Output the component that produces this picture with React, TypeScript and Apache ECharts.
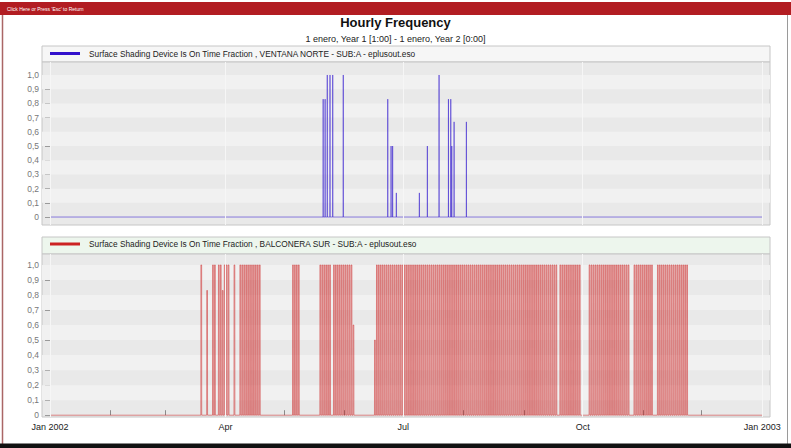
import React, { useEffect, useRef } from 'react';
import * as echarts from 'echarts';

const TITLE = 'Hourly Frequency';
const SUBTITLE = '1 enero, Year 1 [1:00] - 1 enero, Year 2 [0:00]';
const BANNER = "Click Here or Press 'Esc' to Return";
const SERIES_NAMES = [
  'Surface Shading Device Is On Time Fraction , VENTANA NORTE - SUB:A - eplusout.eso',
  'Surface Shading Device Is On Time Fraction , BALCONERA SUR - SUB:A - eplusout.eso',
];

// x axis in days since 1 Jan 2002
const monthTickDays = [0, 31, 59, 90, 120, 151, 181, 212, 243, 273, 304, 334, 365];
const quarterLabelDays = [0, 90, 181, 273, 365];
const quarterLabels = ['Jan 2002', 'Apr', 'Jul', 'Oct', 'Jan 2003'];
const yTicks = [0, 0.1, 0.2, 0.3, 0.4, 0.5, 0.6, 0.7, 0.8, 0.9, 1.0];
const lightBands = [[0.1, 0.2], [0.3, 0.4], [0.5, 0.6], [0.7, 0.8], [0.9, 1.0]];

const SERIES_START_DAY = 0;
const SERIES_END_DAY = 365;

// VENTANA NORTE: isolated hourly spikes (day of year, value)
const blueSpikeDays = [140.0, 141.0, 142.1, 143.5, 144.9, 150.3, 173.1, 174.8, 175.6, 177.5, 189.3, 193.4, 199.4, 204.2, 205.4, 205.9, 207.1, 213.4];
const blueSpikeValues = [0.83, 0.83, 1.0, 1.0, 1.0, 1.0, 0.83, 0.5, 0.5, 0.17, 0.17, 0.5, 1.0, 0.83, 0.83, 0.5, 0.67, 0.67];

// BALCONERA SUR: days with the shade on during daytime hours
const redFullDays = [
  77, 83, 84, 86, 87, 89, 90, 91, 94,
  97, 98, 99, 100, 101, 102, 103, 104, 105, 106, 107,
  124, 125, 126, 127,
  138, 139, 140, 141, 142, 143,
  145, 146, 147, 148, 149, 150, 151, 152, 153, 154,
  167, 168, 169, 170, 171, 172, 173, 174, 175, 176, 177, 178, 179, 180, 181, 182, 183, 184, 185, 186,
  187, 188, 189, 190, 191, 192, 193, 194, 195, 196, 197, 198, 199, 200, 201, 202, 203, 204, 205, 206,
  207, 208, 209, 210, 211, 212, 213, 214, 215, 216, 217, 218, 219, 220, 221, 222, 223, 224, 225, 226,
  227, 228, 229, 230, 231, 232, 233, 234, 235, 236, 237, 238, 239, 240, 241, 242, 243, 244, 245, 246,
  247, 248, 249, 250, 251, 252, 253, 254, 255, 256, 257, 258, 259,
  261, 262, 263, 264, 265, 266, 267, 268, 269, 270, 271,
  276, 277, 278, 279, 280, 281, 282, 283, 284, 285, 286, 287, 288, 289, 290, 291, 292, 293, 294, 295, 296,
  299, 300, 301, 302, 303, 304, 305, 306, 307, 308,
  311, 312, 313, 314, 315, 316, 317, 318, 319, 320, 321, 322, 323, 324, 325, 326,
];
const redPartialDays = [80, 88, 155, 166];
const redPartialValues = [0.83, 0.83, 0.6, 0.5];
const RED_ON_HOUR = 8;
const RED_OFF_HOUR = 17;

const X_MIN = -4.1;
const X_MAX = 369;

function buildBlue(): number[][] {
  const out: number[][] = [[SERIES_START_DAY, 0]];
  blueSpikeDays.forEach((d, i) => {
    out.push([d - 1 / 24, 0], [d, blueSpikeValues[i]], [d + 1 / 24, 0]);
  });
  out.push([SERIES_END_DAY, 0]);
  return out;
}

function buildRed(): number[][] {
  const entries: number[][] = [
    ...redFullDays.map((d) => [d, 1]),
    ...redPartialDays.map((d, i) => [d, redPartialValues[i]]),
  ].sort((a, b) => a[0] - b[0]);
  const out: number[][] = [[SERIES_START_DAY, 0]];
  entries.forEach(([d, v]) => {
    out.push(
      [d + (RED_ON_HOUR - 1) / 24, 0],
      [d + RED_ON_HOUR / 24, v],
      [d + RED_OFF_HOUR / 24, v],
      [d + (RED_OFF_HOUR + 1) / 24, 0]
    );
  });
  out.push([SERIES_END_DAY, 0]);
  return out;
}

const FONT = 'Liberation Sans, Arial, sans-serif';

const yLabel = (v: number) => (Math.abs(v) < 1e-9 ? '0' : v.toFixed(1).replace('.', ','));
const xLabel = (v: number) => {
  const i = quarterLabelDays.findIndex((d) => Math.abs(d - v) < 1e-6);
  return i >= 0 ? quarterLabels[i] : '';
};

function yAxisFor(gridIndex: number, min: number, max: number) {
  return {
    type: 'value',
    gridIndex,
    min,
    max,
    axisLine: { show: false },
    axisTick: { show: true, customValues: yTicks, length: 5, lineStyle: { color: '#9a9a9a' } },
    axisLabel: { customValues: yTicks, formatter: yLabel, fontSize: 8.5, color: '#777', margin: 3, fontFamily: FONT },
    splitLine: { show: false },
  };
}

function bandSeries(idx: number) {
  return {
    type: 'line',
    xAxisIndex: idx,
    yAxisIndex: idx,
    data: [],
    silent: true,
    z: 1,
    markArea: {
      silent: true,
      itemStyle: { color: '#f1f1f1' },
      data: lightBands.map(([a, b]) => [{ yAxis: a }, { yAxis: b }]),
    },
    markLine: {
      silent: true,
      symbol: ['none', 'none'],
      label: { show: false },
      lineStyle: { color: '#f6f6f6', type: 'solid', width: 1 },
      data: quarterLabelDays.map((d) => ({ xAxis: d })),
    },
  };
}

export default function App() {
  const ref = useRef<HTMLDivElement>(null);
  useEffect(() => {
    if (!ref.current) return;
    const chart = echarts.init(ref.current, null, { renderer: 'svg' });
    const legendBase = {
      left: 50,
      padding: 0,
      itemWidth: 30,
      itemHeight: 3,
      icon: 'rect',
      textStyle: { fontSize: 8.3, color: '#222', fontFamily: FONT, padding: [0, 0, 0, 4] },
    };
    chart.setOption({
      animation: false,
      backgroundColor: '#ffffff',
      title: [
        { text: TITLE, left: 'center', top: 16, padding: 0, textStyle: { fontSize: 13, fontWeight: 'bold', color: '#111', fontFamily: FONT } },
        { text: SUBTITLE, left: 'center', top: 34.5, padding: 0, textStyle: { fontSize: 9, fontWeight: 'normal', color: '#222', fontFamily: FONT } },
      ],
      legend: [
        { ...legendBase, data: [SERIES_NAMES[0]], top: 49.5 },
        { ...legendBase, data: [SERIES_NAMES[1]], top: 240 },
      ],
      grid: [
        { left: 42, top: 62, width: 728, height: 163, show: true, backgroundColor: '#e9e9e9', borderColor: '#c6c6c6', borderWidth: 1 },
        { left: 42, top: 254, width: 728, height: 163, show: true, backgroundColor: '#e9e9e9', borderColor: '#c6c6c6', borderWidth: 1 },
      ],
      xAxis: [
        {
          type: 'value', gridIndex: 0, min: X_MIN, max: X_MAX,
          axisLine: { show: false }, axisTick: { show: false }, axisLabel: { show: false }, splitLine: { show: false },
        },
        {
          type: 'value', gridIndex: 1, min: X_MIN, max: X_MAX,
          axisLine: { show: false },
          axisTick: { show: true, inside: true, length: 5, customValues: monthTickDays, lineStyle: { color: '#8a8a8a' } },
          axisLabel: { customValues: quarterLabelDays, formatter: xLabel, fontSize: 9, color: '#222', margin: 5, fontFamily: FONT },
          splitLine: { show: false },
        },
      ],
      yAxis: [yAxisFor(0, -0.056, 1.0915), yAxisFor(1, -0.012, 1.073)],
      graphic: [
        { type: 'rect', shape: { x: 0, y: 2, width: 791, height: 13 }, style: { fill: '#b21d22' }, silent: true },
        { type: 'text', x: 7, y: 9, style: { text: BANNER, fill: '#ffffff', fontSize: 5, fontFamily: FONT, textVerticalAlign: 'middle' }, silent: true },
        { type: 'line', shape: { x1: 2.5, y1: 15, x2: 2.5, y2: 444 }, style: { stroke: '#a66', lineWidth: 1.5 }, silent: true },
        { type: 'line', shape: { x1: 787.5, y1: 15, x2: 787.5, y2: 444 }, style: { stroke: '#9a9a9a', lineWidth: 1 }, silent: true },
        { type: 'rect', shape: { x: 0, y: 443.5, width: 791, height: 5 }, style: { fill: '#111' }, silent: true },
        { type: 'rect', shape: { x: 42, y: 46, width: 728, height: 16 }, style: { fill: '#f6f6f6', stroke: '#c6c6c6', lineWidth: 1 }, silent: true, z: -1 },
        { type: 'rect', shape: { x: 42, y: 237, width: 728, height: 17 }, style: { fill: '#edf6ed', stroke: '#c6c6c6', lineWidth: 1 }, silent: true, z: -1 },
      ],
      series: [
        bandSeries(0),
        bandSeries(1),
        {
          type: 'line', name: SERIES_NAMES[0], xAxisIndex: 0, yAxisIndex: 0, data: buildBlue(),
          showSymbol: false, symbol: 'none', z: 3,
          lineStyle: { color: '#3a22d0', width: 0.8, opacity: 0.7 }, itemStyle: { color: '#3311cc' },
        },
        {
          type: 'line', name: SERIES_NAMES[1], xAxisIndex: 1, yAxisIndex: 1, data: buildRed(),
          showSymbol: false, symbol: 'none', z: 3,
          lineStyle: { color: '#cc2020', width: 0.6, opacity: 0.85 }, itemStyle: { color: '#cc2222' },
        },
      ],
    });
    return () => chart.dispose();
  }, []);
  return <div ref={ref} style={{ position: 'absolute', left: 0, top: 0, width: 791, height: 448 }} />;
}
